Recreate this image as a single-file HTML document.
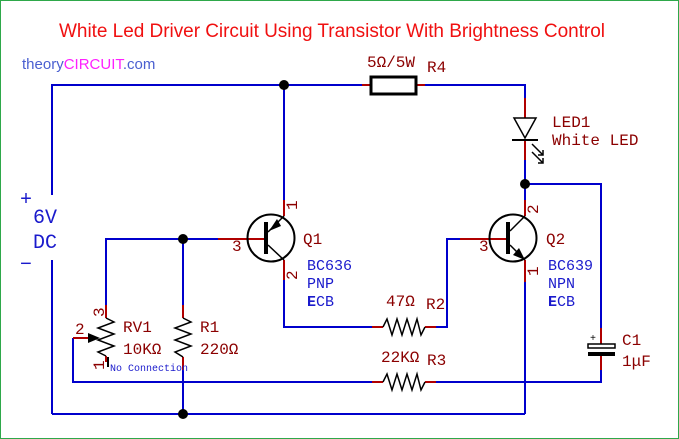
<!DOCTYPE html>
<html><head><meta charset="utf-8"><style>
html,body{margin:0;padding:0;background:#fff;width:679px;height:439px;overflow:hidden}
svg text{font-family:"Liberation Mono",monospace}
</style></head><body>
<svg width="679" height="439" viewBox="0 0 679 439" xmlns="http://www.w3.org/2000/svg">
<rect x="0.5" y="0.5" width="678" height="438" fill="#fff" stroke="#2ea84a" stroke-width="1"/>
<text x="332" y="37" text-anchor="middle" fill="#f01010" font-size="19" textLength="546" style="font-family:'Liberation Sans',sans-serif">White Led Driver Circuit Using Transistor With Brightness Control</text>
<text x="22" y="69" font-size="15" style="font-family:'Liberation Sans',sans-serif"><tspan fill="#4a5fd0">theory</tspan><tspan fill="#ff20ff">CIRCUIT</tspan><tspan fill="#4a5fd0">.com</tspan></text>

<g fill="none" stroke="#0000cc" stroke-width="2">
<polyline points="52,195 52,85 371,85"/>
<polyline points="416,85 525,85 525,98"/>
<line x1="52" y1="260" x2="52" y2="414"/>
<line x1="52" y1="414" x2="525" y2="414"/>
<line x1="525" y1="414" x2="525" y2="282"/>
<line x1="284" y1="85" x2="284" y2="200"/>
<polyline points="106,305 106,239 218,239"/>
<line x1="183" y1="239" x2="183" y2="305"/>
<line x1="183" y1="370" x2="183" y2="414"/>
<polyline points="284,280 284,327 372,327"/>
<polyline points="436,327 447,327 447,239 460,239"/>
<polyline points="73,338 73,382 372,382"/>
<polyline points="436,382 601,382 601,370"/>
<polyline points="601,328 601,184 525,184 525,200"/>
<line x1="525" y1="160" x2="525" y2="184"/>
</g>
<g stroke="#b00000" stroke-width="2" fill="none">
<line x1="362" y1="85" x2="371" y2="85"/><line x1="416" y1="85" x2="425" y2="85"/>
<line x1="525" y1="98" x2="525" y2="118"/><line x1="525" y1="140" x2="525" y2="160"/>
<line x1="284" y1="200" x2="284" y2="216"/><line x1="284" y1="260" x2="284" y2="280"/>
<line x1="218" y1="239" x2="266" y2="239"/>
<line x1="525" y1="200" x2="525" y2="216"/><line x1="525" y1="260" x2="525" y2="282"/>
<line x1="460" y1="239" x2="507" y2="239"/>
<line x1="106" y1="305" x2="106" y2="318"/><line x1="106" y1="356" x2="106" y2="362"/>
<line x1="73" y1="338" x2="90" y2="338"/>
<line x1="183" y1="305" x2="183" y2="318"/><line x1="183" y1="357" x2="183" y2="370"/>
<line x1="372" y1="327" x2="383" y2="327"/><line x1="425" y1="327" x2="436" y2="327"/>
<line x1="372" y1="382" x2="383" y2="382"/><line x1="425" y1="382" x2="436" y2="382"/>
<line x1="601" y1="328" x2="601" y2="344"/><line x1="601" y1="355" x2="601" y2="370"/>
</g>
<g fill="#000"><circle cx="284" cy="85" r="5"/><circle cx="183" cy="239" r="5"/><circle cx="183" cy="414" r="5"/><circle cx="525" cy="184" r="5"/></g>
<rect x="371" y="77" width="45" height="17" fill="none" stroke="#000" stroke-width="3"/>
<g stroke="#000" stroke-width="1.5" fill="none">
<polygon points="514,118 536,118 525,138"/>
<line x1="512" y1="140" x2="538" y2="140" stroke-width="2"/>
<line x1="532" y1="144" x2="543" y2="155"/><polyline points="538,155 543,155 543,150"/>
<line x1="532" y1="152" x2="543" y2="163"/><polyline points="538,163 543,163 543,158"/>
</g>
<g stroke="#000" fill="none">
<circle cx="271" cy="238" r="23.5" stroke-width="2"/>
<line x1="266" y1="222" x2="266" y2="254" stroke-width="4"/>
<line x1="268" y1="232" x2="284" y2="216" stroke-width="1.5"/>
<line x1="268" y1="245" x2="284" y2="260" stroke-width="1.5"/>
</g>
<polygon points="269,231 277,219 281,226" fill="#000"/>
<g stroke="#000" fill="none">
<circle cx="513" cy="238" r="23.5" stroke-width="2"/>
<line x1="508" y1="222" x2="508" y2="254" stroke-width="4"/>
<line x1="510" y1="231" x2="525" y2="216" stroke-width="1.5"/>
<line x1="510" y1="245" x2="525" y2="260" stroke-width="1.5"/>
</g>
<polygon points="525,260 513,255 519,248" fill="#000"/>
<g stroke="#000" stroke-width="1.5" fill="none">
<polyline points="106,318 114,322 98,328 114,334 98,340 114,346 98,352 106,356"/>
<polyline points="183,318 191,322 175,328 191,334 175,340 191,346 175,352 183,357"/>
<polyline points="383,327 387,319 392,335 397,319 402,335 407,319 412,335 417,319 421,335 425,327"/>
<polyline points="383,382 387,374 392,390 397,374 402,390 407,374 412,390 417,374 421,390 425,382"/>
<line x1="108" y1="357" x2="108" y2="367" stroke-width="2"/>
</g>
<polygon points="88,333 100,338 88,343" fill="#000"/>
<rect x="588" y="344" width="27" height="4" fill="none" stroke="#000" stroke-width="1.5"/>
<rect x="588" y="352" width="27" height="4" fill="#000"/>
<text x="590" y="341" font-size="10" fill="#000">+</text>
<g fill="#8b0000" font-size="16">
<text x="367" y="67">5Ω/5W</text><text x="427" y="72">R4</text>
<text x="552" y="127">LED1</text><text x="552" y="145">White LED</text>
<text x="303" y="244">Q1</text><text x="546" y="244">Q2</text>
<text x="232" y="251">3</text><text x="479" y="251">3</text>
<text x="386" y="306">47Ω</text><text x="426" y="309">R2</text>
<text x="381" y="362">22KΩ</text><text x="427" y="365">R3</text>
<text x="123" y="332">RV1</text><text x="123" y="354">10KΩ</text>
<text x="200" y="332">R1</text><text x="200" y="354">220Ω</text>
<text x="622" y="345">C1</text><text x="622" y="366">1μF</text>
<text x="75" y="334">2</text>
<text transform="translate(297,210) rotate(-90)">1</text>
<text transform="translate(297,280) rotate(-90)">2</text>
<text transform="translate(538,214) rotate(-90)">2</text>
<text transform="translate(538,276) rotate(-90)">1</text>
<text transform="translate(104,317) rotate(-90)">3</text>
<text transform="translate(104,370) rotate(-90)">1</text>
</g>
<g fill="#1a1acc" font-size="15">
<text x="307" y="270">BC636</text><text x="307" y="288">PNP</text><text x="307" y="306"><tspan font-weight="bold">E</tspan>CB</text>
<text x="548" y="270">BC639</text><text x="548" y="288">NPN</text><text x="548" y="306"><tspan font-weight="bold">E</tspan>CB</text>
<text x="110" y="371" font-size="10">No Connection</text>
</g>
<g fill="#1a1acc" font-size="20" style="font-family:'Liberation Sans',sans-serif">
<text x="20" y="205">+</text><text x="33" y="223">6V</text><text x="33" y="248">DC</text><text x="20" y="270">−</text>
</g>
</svg>
</body></html>
